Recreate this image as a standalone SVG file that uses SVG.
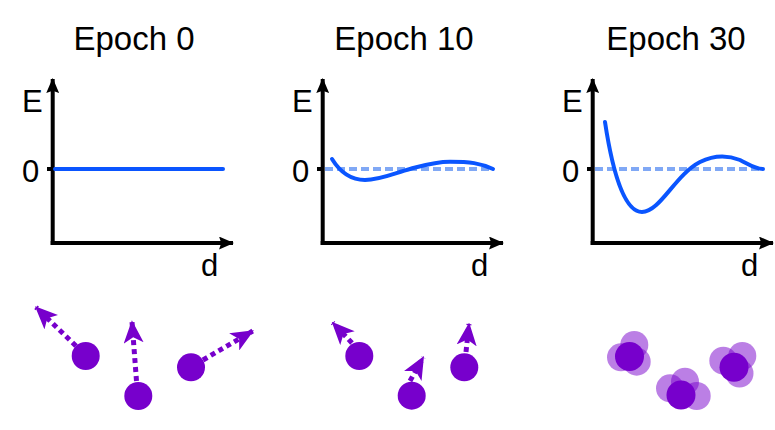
<svg xmlns="http://www.w3.org/2000/svg" width="775" height="430" viewBox="0 0 775 430">
<style>
.t{font-family:"Liberation Sans",Arial,sans-serif;fill:#000}
.title{font-size:33px;text-anchor:middle}
.lab{font-size:31px}
.ax{stroke:#000;stroke-width:4;fill:none}
.curve{stroke:#0a55ff;stroke-width:4;fill:none;stroke-linecap:round}
.zero{stroke:#80a8f5;stroke-width:4;fill:none;stroke-dasharray:8 4}
.p{fill:#7700cc}
.pt{fill:#7700cc;fill-opacity:0.5}
.mv{stroke:#7700cc;stroke-width:5;fill:none;stroke-dasharray:5 4}
</style>
<defs>
<marker id="ah" viewBox="0 0 14 12" refX="13" refY="6" markerWidth="15" markerHeight="13" markerUnits="userSpaceOnUse" orient="auto">
<path d="M0,0 L14,6 L0,12 L2,6 z" fill="#000"/>
</marker>
<marker id="ph" viewBox="0 0 16 14" refX="15" refY="7" markerWidth="23" markerHeight="20" markerUnits="userSpaceOnUse" orient="auto">
<path d="M0,0 L16,7 L0,14 L4,7 z" fill="#7700cc"/>
</marker>
</defs>

<g id="panel0">
<text class="t title" x="134" y="50">Epoch 0</text>
<line class="ax" x1="52.7" y1="245" x2="52.7" y2="79" marker-end="url(#ah)"/>
<line class="ax" x1="50.7" y1="243" x2="233" y2="243" marker-end="url(#ah)"/>
<line class="ax" x1="47" y1="169" x2="53" y2="169"/>
<text class="t lab" x="22" y="112">E</text>
<text class="t lab" x="22" y="182">0</text>
<text class="t lab" x="201" y="276">d</text>
<line class="curve" x1="55" y1="169" x2="223" y2="169" stroke-linecap="butt"/>
</g>

<g id="panel10">
<text class="t title" x="404" y="50">Epoch 10</text>
<line class="ax" x1="322.7" y1="245" x2="322.7" y2="79" marker-end="url(#ah)"/>
<line class="ax" x1="320.7" y1="243" x2="503" y2="243" marker-end="url(#ah)"/>
<line class="ax" x1="317" y1="169" x2="323" y2="169"/>
<text class="t lab" x="292" y="112">E</text>
<text class="t lab" x="292" y="182">0</text>
<text class="t lab" x="471" y="276">d</text>
<line class="zero" x1="325" y1="169" x2="493" y2="169"/>
<path class="curve" d="M332,159 C340,172 350,180 365,180 C380,180 395,173 410,169 C425,165 435,161.7 450,161.7 C470,161.7 480,163 493,169"/>
</g>

<g id="panel30">
<text class="t title" x="676" y="50">Epoch 30</text>
<line class="ax" x1="592.7" y1="245" x2="592.7" y2="79" marker-end="url(#ah)"/>
<line class="ax" x1="590.7" y1="243" x2="773" y2="243" marker-end="url(#ah)"/>
<line class="ax" x1="587" y1="169" x2="593" y2="169"/>
<text class="t lab" x="562" y="112">E</text>
<text class="t lab" x="562" y="182">0</text>
<text class="t lab" x="741" y="276">d</text>
<line class="zero" x1="595" y1="169" x2="763" y2="169"/>
<path class="curve" d="M605,122 C613,175 625,212 642,212 C660,212 675,175 700,162 C712,156 725,154 740,160 C750,165 755,169 763,169"/>
</g>

<g id="connectors">
<line class="mv" x1="76" y1="346" x2="36" y2="307.3" marker-end="url(#ph)"/>
<line class="mv" x1="136.5" y1="381" x2="132" y2="321.7" marker-end="url(#ph)"/>
<line class="mv" x1="203" y1="360" x2="252.7" y2="331" marker-end="url(#ph)"/>
<line class="mv" x1="352" y1="343" x2="332.7" y2="322.7" marker-end="url(#ph)"/>
<line class="mv" x1="410" y1="381" x2="423.3" y2="357.3" marker-end="url(#ph)"/>
<line class="mv" x1="466" y1="352" x2="469" y2="324" marker-end="url(#ph)"/>
</g>

<g id="atoms0">
<circle class="p" cx="85.7" cy="356" r="14"/>
<circle class="p" cx="138.3" cy="396" r="14"/>
<circle class="p" cx="191" cy="367.3" r="14"/>
</g>
<g id="atoms10">
<circle class="p" cx="359.3" cy="356" r="14"/>
<circle class="p" cx="411.7" cy="395.7" r="14"/>
<circle class="p" cx="464.3" cy="367.3" r="14"/>
</g>
<g id="atoms30">
<circle class="pt" cx="634.3" cy="345" r="14"/>
<circle class="pt" cx="621" cy="357.3" r="14"/>
<circle class="pt" cx="636.7" cy="361.7" r="14"/>
<circle class="p" cx="629.5" cy="356.5" r="14.5"/>
<circle class="pt" cx="670" cy="388.3" r="14"/>
<circle class="pt" cx="685" cy="381.7" r="14"/>
<circle class="pt" cx="696.7" cy="396" r="14"/>
<circle class="p" cx="681" cy="395" r="14.5"/>
<circle class="pt" cx="723.3" cy="360.7" r="14"/>
<circle class="pt" cx="742.3" cy="356" r="14"/>
<circle class="pt" cx="739.5" cy="373.5" r="14"/>
<circle class="p" cx="734" cy="367.3" r="14.5"/>
</g>
</svg>
